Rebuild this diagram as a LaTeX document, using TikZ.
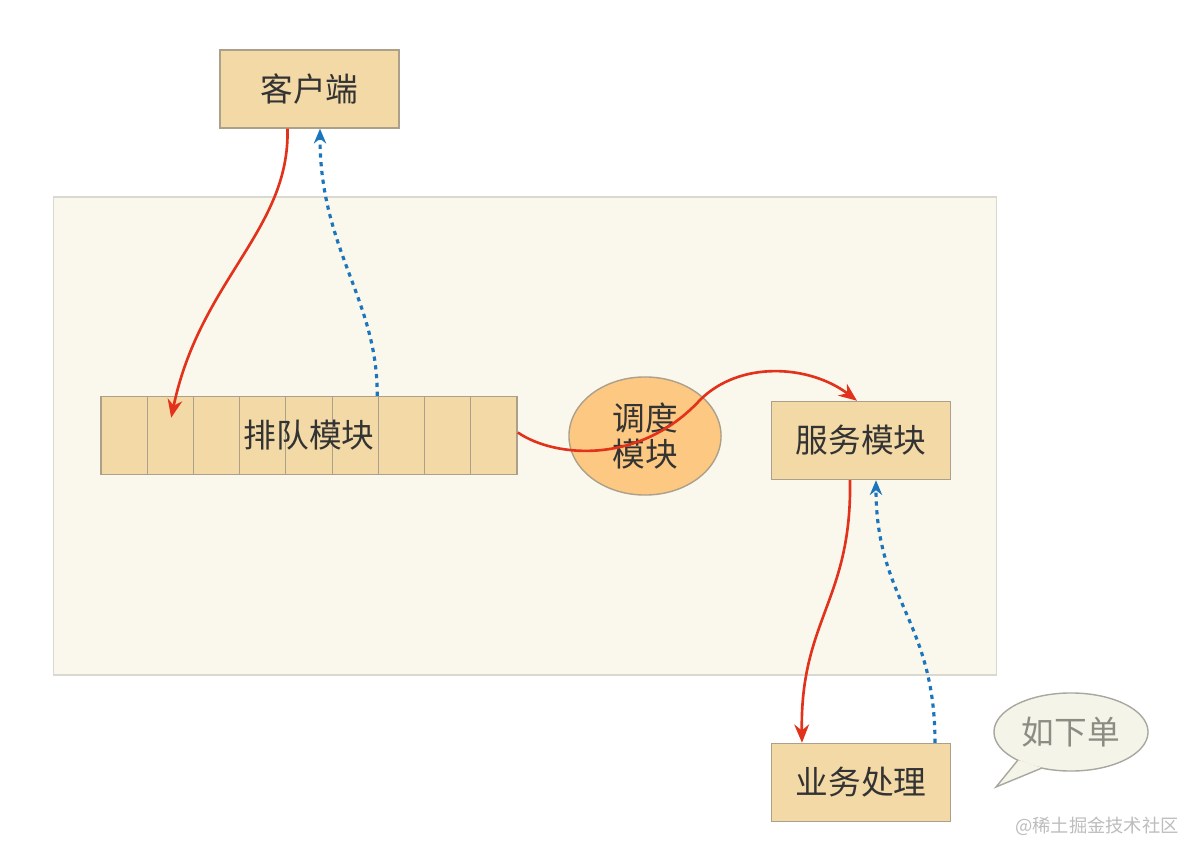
\documentclass[tikz,border=0pt]{standalone}
\usepackage{fontspec}
\setmainfont{Noto Sans CJK SC}
\usetikzlibrary{arrows.meta, positioning, calc, shapes.geometric}
\definecolor{boxfill}{HTML}{F3D9A6}
\definecolor{boxline}{HTML}{ACA08A}
\definecolor{panelfill}{HTML}{FAF8EC}
\definecolor{panelline}{HTML}{DAD9D0}
\definecolor{schedfill}{HTML}{FCC882}
\definecolor{flowred}{HTML}{E2321C}
\definecolor{backblue}{HTML}{1B75BC}
\definecolor{txt}{HTML}{333333}
\definecolor{notefill}{HTML}{F5F4E8}
\definecolor{noteline}{HTML}{A8A8A0}
\definecolor{notetxt}{HTML}{8C8C84}
\definecolor{wmgray}{HTML}{BDBDBD}

\begin{document}
\begin{tikzpicture}[
        x=0.01cm, y=-0.01cm,
        box/.style={rectangle, draw=boxline, fill=boxfill, inner sep=0pt,
            minimum width=1.79cm, minimum height=0.78cm, text=txt,
            font=\fontsize{9.3}{10.5}\selectfont},
        flow/.style={draw=flowred, line width=0.75pt, -{Stealth[length=5.2pt, width=4.2pt]}},
        back/.style={draw=backblue, line width=0.9pt, dash pattern=on 1.2pt off 1.3pt,
            -{Stealth[length=4.2pt, width=3.5pt]}},
        >=Stealth]

    \useasboundingbox (0,0) rectangle (1200,858);
    \fill[white] (0,0) rectangle (1200,858);

    \node[rectangle, draw=panelline, fill=panelfill, minimum width=9.42cm, minimum height=4.78cm] (panel) at (525,436) {};

    \node[box] (client) at (309.5,89) {客户端};
    \node[box, minimum width=4.16cm, path picture={
            \foreach \i in {1,...,8}
                \draw[boxline, line width=0.3pt] ([xshift=\i*0.4622cm]path picture bounding box.north west) -- ([xshift=\i*0.4622cm]path picture bounding box.south west);
        }] (queue) at (309,435.5) {排队模块};
    \node[ellipse, draw=boxline, fill=schedfill, minimum width=1.52cm, minimum height=1.18cm,
        inner sep=0pt, align=center, text=txt, font=\fontsize{9.3}{10.5}\selectfont] (sched) at (645,436) {调度\\模块};
    \node[box] (service) at (861,440.5) {服务模块};
    \node[box] (biz) at (861,782.5) {业务处理};

    \node[ellipse, draw=noteline, fill=notefill, minimum width=1.54cm, minimum height=0.78cm,
        inner sep=0pt, text=notetxt, font=\fontsize{9.3}{10.5}\selectfont] (note) at (1071,732) {如下单};
    \coordinate (tail) at (996,787);
    \fill[notefill] ($(note.center)+(-53,28)$) -- (tail) -- ($(note.center)+(-29,36)$) -- cycle;
    \draw[noteline] ($(note.center)+(-53,28)$) -- (tail) -- ($(note.center)+(-29,36)$);

    \node[text=wmgray, font=\fontsize{5.2}{6}\selectfont] (mark) at (1097,826) {@稀土掘金技术社区};

    \draw[flow] ($(client.south)+(-22,0)$) .. controls (290,230) and (200,280) .. ($(queue.north west)+(71,22)$);
    \draw[back] ($(queue.north west)+(277,0)$) .. controls (378,300) and (320,250) .. ($(client.south)+(10.5,0)$);
    \draw[flow] ($(queue.east)+(0,-3)$) .. controls (555,458) and (640,465) .. (700,400)
        .. controls (740,360) and (810,365) .. ($(service.north)+(-4,0)$);
    \draw[flow] ($(service.south)+(-11,0)$) .. controls (852,600) and (800,620) .. ($(biz.north)+(-59,0)$);
    \draw[back] ($(biz.north)+(74,0)$) .. controls (935,620) and (876,600) .. ($(service.south)+(15,0)$);

\end{tikzpicture}
\end{document}
